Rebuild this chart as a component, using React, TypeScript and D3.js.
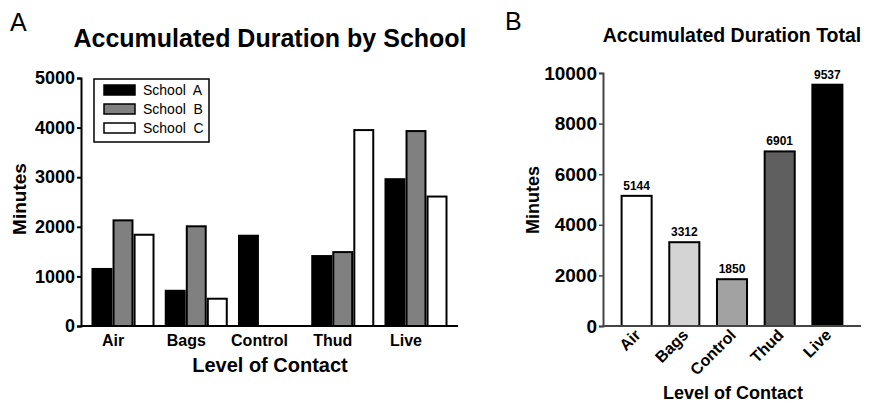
import { useEffect, useRef } from 'react';
import * as d3 from 'd3';

const categories = ['Air', 'Bags', 'Control', 'Thud', 'Live'];
const schools = ['School  A', 'School  B', 'School  C'];
const schoolA = [1150, 710, 1820, 1410, 2960];
const schoolB = [2130, 2010, 0, 1490, 3930];
const schoolC = [1840, 550, 0, 3950, 2610];
const totals = [5144, 3312, 1850, 6901, 9537];
const leftTicks = [0, 1000, 2000, 3000, 4000, 5000];
const rightTicks = [0, 2000, 4000, 6000, 8000, 10000];

const schoolFill = ['#000000', '#808080', '#ffffff'];
const totalFill = ['#ffffff', '#d4d4d4', '#a2a2a2', '#5f5f5f', '#000000'];
const FONT = '"Liberation Sans", Arial, Helvetica, sans-serif';

export default function App() {
  const ref = useRef<SVGSVGElement | null>(null);
  useEffect(() => {
    const svg = d3.select(ref.current!);
    svg.selectAll('*').remove();
    svg.attr('font-family', FONT);

    // ---------- panel A ----------
    const series = [schoolA, schoolB, schoolC];
    const x0 = d3.scaleBand<string>().domain(categories).range([81, 458]).paddingInner(0.167).paddingOuter(0.157);
    const x1 = d3.scaleBand<number>().domain([0, 1, 2]).range([0, x0.bandwidth()]).paddingInner(0.1);
    const yA = d3.scaleLinear().domain([0, 5000]).range([326, 78]);

    svg.append('text').attr('x', 10).attr('y', 31).attr('font-size', 25).text('A');
    svg.append('text').attr('x', 270).attr('y', 47).attr('text-anchor', 'middle')
      .attr('font-size', 25).attr('font-weight', 'bold').text('Accumulated Duration by School');

    const gA = svg.append('g');
    categories.forEach((c, i) => {
      series.forEach((s, j) => {
        if (!s[i]) return;
        gA.append('rect')
          .attr('x', (x0(c) ?? 0) + (x1(j) ?? 0)).attr('y', yA(s[i]))
          .attr('width', x1.bandwidth()).attr('height', yA(0) - yA(s[i]))
          .attr('fill', schoolFill[j]).attr('stroke', '#000').attr('stroke-width', 2);
      });
    });

    const axA = svg.append('g').attr('transform', 'translate(81,0)')
      .call(d3.axisLeft(yA).tickValues(leftTicks).tickSize(4).tickPadding(2).tickFormat(d3.format('d')));
    axA.select('.domain').attr('stroke', '#000').attr('stroke-width', 2);
    axA.selectAll('.tick line').attr('stroke-width', 2);
    axA.selectAll('text').attr('font-size', 18).attr('font-weight', 'bold').attr('font-family', FONT).attr('fill', '#000');

    svg.append('line').attr('x1', 81).attr('x2', 458).attr('y1', yA(0)).attr('y2', yA(0))
      .attr('stroke', '#000').attr('stroke-width', 2);

    categories.forEach((c) => {
      svg.append('text').attr('x', (x0(c) ?? 0) + x0.bandwidth() / 2 - 10).attr('y', 346)
        .attr('text-anchor', 'middle').attr('font-size', 16).attr('font-weight', 'bold').text(c);
    });
    svg.append('text').attr('x', 270).attr('y', 372).attr('text-anchor', 'middle')
      .attr('font-size', 20).attr('font-weight', 'bold').text('Level of Contact');
    svg.append('text').attr('transform', 'translate(26,199) rotate(-90)').attr('text-anchor', 'middle')
      .attr('font-size', 19).attr('font-weight', 'bold').text('Minutes');

    // legend
    const lg = svg.append('g').attr('transform', 'translate(94,79)');
    lg.append('rect').attr('width', 115).attr('height', 63).attr('fill', '#fff').attr('stroke', '#000').attr('stroke-width', 1.5);
    schools.forEach((s, j) => {
      const cy = 11 + j * 19;
      lg.append('rect').attr('x', 10).attr('y', cy - 5).attr('width', 31).attr('height', 10)
        .attr('fill', schoolFill[j]).attr('stroke', '#000').attr('stroke-width', 1.5);
      lg.append('text').attr('x', 49).attr('y', cy + 5).attr('font-size', 14)
        .style('white-space', 'pre').text(s);
    });

    // ---------- panel B ----------
    const xB = d3.scaleBand<string>().domain(categories).range([603, 861]).paddingInner(0.37).paddingOuter(0.39);
    const yB = d3.scaleLinear().domain([0, 10000]).range([326, 73]);

    svg.append('text').attr('x', 505).attr('y', 30).attr('font-size', 25).text('B');
    svg.append('text').attr('x', 732).attr('y', 42).attr('text-anchor', 'middle')
      .attr('font-size', 19.5).attr('font-weight', 'bold').text('Accumulated Duration Total');

    categories.forEach((c, i) => {
      svg.append('rect').attr('x', xB(c) ?? 0).attr('y', yB(totals[i]))
        .attr('width', xB.bandwidth()).attr('height', yB(0) - yB(totals[i]))
        .attr('fill', totalFill[i]).attr('stroke', '#000').attr('stroke-width', 2);
      svg.append('text').attr('x', (xB(c) ?? 0) + xB.bandwidth() / 2).attr('y', yB(totals[i]) - 6)
        .attr('text-anchor', 'middle').attr('font-size', 12).attr('font-weight', 'bold').text(String(totals[i]));
      svg.append('text')
        .attr('transform', `translate(${(xB(c) ?? 0) + xB.bandwidth() / 2 + 5},336) rotate(-45)`)
        .attr('text-anchor', 'end').attr('font-size', 16).attr('font-weight', 'bold').text(c);
    });

    const axB = svg.append('g').attr('transform', 'translate(603,0)')
      .call(d3.axisLeft(yB).tickValues(rightTicks).tickSize(4).tickPadding(2).tickFormat(d3.format('d')));
    axB.select('.domain').attr('stroke', '#444').attr('stroke-width', 2);
    axB.selectAll('.tick line').attr('stroke', '#444').attr('stroke-width', 1.5);
    axB.selectAll('text').attr('font-size', 19).attr('font-weight', 'bold').attr('font-family', FONT).attr('fill', '#000');

    svg.append('line').attr('x1', 603).attr('x2', 861).attr('y1', yB(0)).attr('y2', yB(0))
      .attr('stroke', '#444').attr('stroke-width', 2);

    svg.append('text').attr('x', 733).attr('y', 399).attr('text-anchor', 'middle')
      .attr('font-size', 18).attr('font-weight', 'bold').text('Level of Contact');
    svg.append('text').attr('transform', 'translate(539,200) rotate(-90)').attr('text-anchor', 'middle')
      .attr('font-size', 18).attr('font-weight', 'bold').text('Minutes');
  }, []);
  return (
    <svg ref={ref} width={869} height={406}
      style={{ position: 'absolute', left: 0, top: 0, background: '#fff' }} />
  );
}
